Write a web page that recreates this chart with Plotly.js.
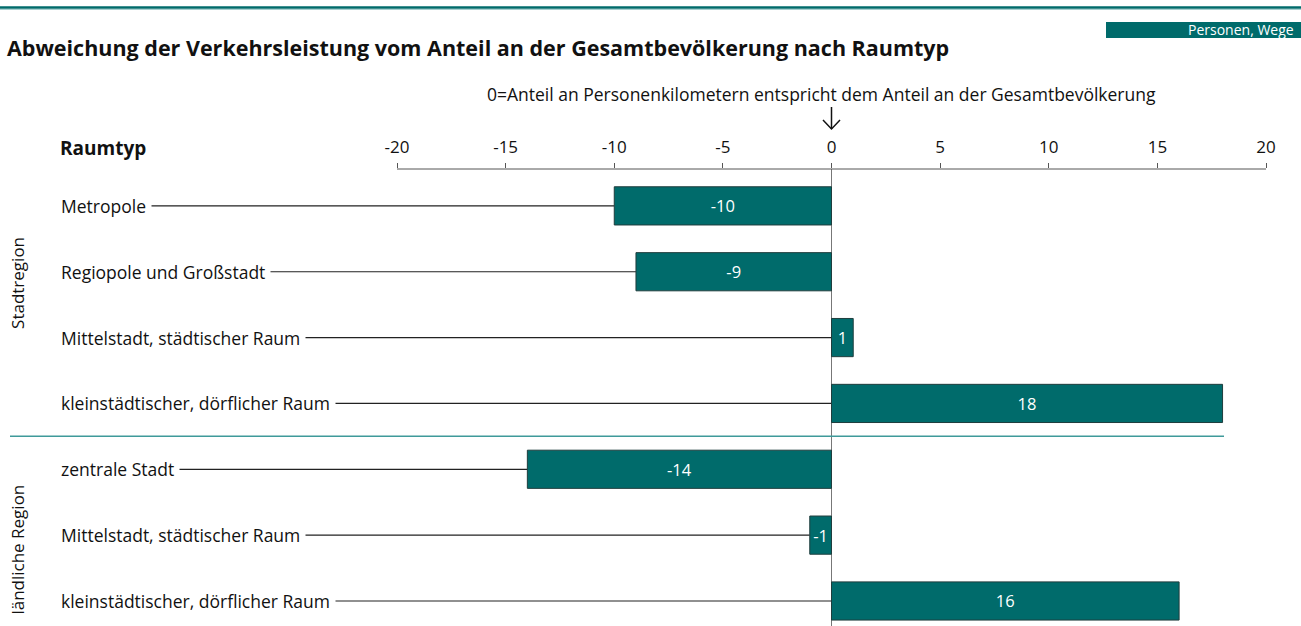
<!DOCTYPE html>
<html>
<head>
<meta charset="utf-8">
<script src="https://cdn.plot.ly/plotly-3.0.1.min.js"></script>
<style>html,body{margin:0;padding:0;background:#fff;}#chart{width:1301px;height:626px;}</style>
</head>
<body>
<div id="chart"></div>
<script>
// ---- data ----
var categories = [
  "Metropole",
  "Regiopole und Großstadt",
  "Mittelstadt, städtischer Raum",
  "kleinstädtischer, dörflicher Raum",
  "zentrale Stadt",
  "Mittelstadt, städtischer Raum",
  "kleinstädtischer, dörflicher Raum"
];
var groups = ["Stadtregion", "Stadtregion", "Stadtregion", "Stadtregion",
              "ländliche Region", "ländliche Region", "ländliche Region"];
var values = [-10, -9, 1, 18, -14, -1, 16];
var tickValues = [-20, -15, -10, -5, 0, 5, 10, 15, 20];
var tickLabels = ["-20", "-15", "-10", "-5", "0", "5", "10", "15", "20"];
var titleText = "Abweichung der Verkehrsleistung vom Anteil an der Gesamtbevölkerung nach Raumtyp";
var noteText = "0=Anteil an Personenkilometern entspricht dem Anteil an der Gesamtbevölkerung";
var headerText = "Raumtyp";
var badgeText = "Personen, Wege";

// ---- layout helpers ----
var W = 1301, H = 626;
var mL = 0, mR = 35, mT = 169, mB = 0;
var plotW = W - mL - mR, plotH = H - mT - mB;
var xRange = [-38.274, 20];
var yRange = [6.38, -0.56];
function xp(px) { return (px - mL) / plotW; }
function yp(py) { return (H - mB - py) / plotH; }
function xData2Paper(v) { return (v - xRange[0]) / (xRange[1] - xRange[0]); }

var teal = "#006b6b";
var FONT = "Open Sans, Noto Sans, sans-serif";

var idx = categories.map(function (c, i) { return i; });

var trace = {
  type: "bar",
  orientation: "h",
  x: values,
  y: idx,
  width: 0.58,
  marker: { color: teal, line: { color: "#1f3d3d", width: 1 } },
  text: values.map(String),
  textposition: "inside",
  insidetextanchor: "middle",
  textangle: 0,
  constraintext: "none",
  textfont: { color: "#ffffff", size: 16.5, family: FONT },
  hoverinfo: "none",
  cliponaxis: false
};

var shapes = [];
var annotations = [];

// top rule
shapes.push({ type: "line", xref: "paper", yref: "paper", x0: xp(0), x1: xp(W), y0: yp(7.5), y1: yp(7.5),
  line: { color: teal, width: 2.5 } });
shapes.push({ type: "line", xref: "paper", yref: "paper", x0: xp(0), x1: xp(W), y0: yp(9.5), y1: yp(9.5),
  line: { color: "#a8d0d0", width: 1 } });
// badge
shapes.push({ type: "rect", xref: "paper", yref: "paper", x0: xp(1106), x1: xp(W), y0: yp(22), y1: yp(38),
  fillcolor: teal, line: { width: 0 } });
annotations.push({ xref: "paper", yref: "paper", x: xp(1296), y: yp(30), xanchor: "right", yanchor: "middle",
  text: badgeText, showarrow: false, font: { family: FONT, size: 14, color: "#ffffff" } });

// axis line (from -20 to 20)
shapes.push({ type: "line", xref: "x", yref: "paper", x0: tickValues[0], x1: tickValues[tickValues.length - 1],
  y0: 1, y1: 1, line: { color: "#555555", width: 1 } });

// leader lines
values.forEach(function (v, i) {
  shapes.push({ type: "line", xref: "x", yref: "y", x0: xRange[0] + 3.5, x1: Math.min(0, v), y0: i, y1: i,
    layer: "below", line: { color: "#222222", width: 1.2 } });
});

// separator between groups
for (var i = 1; i < groups.length; i++) {
  if (groups[i] !== groups[i - 1]) {
    shapes.push({ type: "line", xref: "paper", yref: "y", x0: xp(10), x1: xp(1224), y0: i - 0.5, y1: i - 0.5,
      line: { color: "#3f9a9a", width: 1.5 } });
  }
}

// arrow pointing at zero
var zx = xData2Paper(0);
var dx = 8.5 / plotW;
shapes.push({ type: "path", xref: "paper", yref: "paper",
  path: "M" + zx + "," + yp(107) + " L" + zx + "," + yp(129),
  line: { color: "#111111", width: 1.5 } });
shapes.push({ type: "path", xref: "paper", yref: "paper",
  path: "M" + (zx - dx) + "," + yp(120) + " L" + zx + "," + yp(129) + " L" + (zx + dx) + "," + yp(120),
  line: { color: "#111111", width: 1.5 } });

// category labels
categories.forEach(function (c, i) {
  annotations.push({ xref: "paper", yref: "y", x: xp(55), y: i, xanchor: "left", yanchor: "middle",
    text: c, showarrow: false, bgcolor: "#ffffff", borderpad: 5,
    font: { family: FONT, size: 17.5, color: "#111111" } });
});

// group labels (rotated)
var gStart = 0, gCount = 0;
for (var j = 1; j <= groups.length; j++) {
  if (j === groups.length || groups[j] !== groups[gStart]) {
    var mid = (gStart + j - 1) / 2 + (gCount === 0 ? -0.33 : 0.22);
    annotations.push({ xref: "paper", yref: "y", x: xp(18), y: mid,
      xanchor: "center", yanchor: "middle", textangle: -90,
      text: groups[gStart], showarrow: false, font: { family: FONT, size: 17, color: "#111111" } });
    gStart = j; gCount++;
  }
}

// header
annotations.push({ xref: "paper", yref: "paper", x: xp(58), y: yp(148), xanchor: "left", yanchor: "middle",
  text: "<b>" + headerText + "</b>", showarrow: false, font: { family: FONT, size: 19, color: "#111111" } });
// zero note
annotations.push({ xref: "x", yref: "paper", x: -0.45, y: yp(94), xanchor: "center", yanchor: "middle",
  text: noteText, showarrow: false, font: { family: FONT, size: 17.5, color: "#111111" } });

var layout = {
  width: W, height: H,
  margin: { l: mL, r: mR, t: mT, b: mB, pad: 0 },
  paper_bgcolor: "#ffffff", plot_bgcolor: "#ffffff",
  showlegend: false,
  title: { text: "<b>" + titleText + "</b>", xref: "container", yref: "container",
    x: 7 / W, xanchor: "left", y: 1 - 48 / H, yanchor: "middle",
    font: { family: FONT, size: 21.5, color: "#111111" } },
  xaxis: {
    side: "top", range: xRange, tickmode: "array", tickvals: tickValues, ticktext: tickLabels,
    ticks: "outside", ticklen: 5, tickcolor: "#555555", tickwidth: 1,
    showline: false, showgrid: false, zeroline: true, zerolinecolor: "#777777", zerolinewidth: 1,
    tickfont: { family: FONT, size: 17, color: "#111111" }, ticklabelstandoff: 3, fixedrange: true
  },
  yaxis: { range: yRange, visible: false, showgrid: false, zeroline: false, fixedrange: true },
  shapes: shapes,
  annotations: annotations
};

Plotly.newPlot("chart", [trace], layout, { displayModeBar: false, staticPlot: true });
</script>
</body>
</html>
